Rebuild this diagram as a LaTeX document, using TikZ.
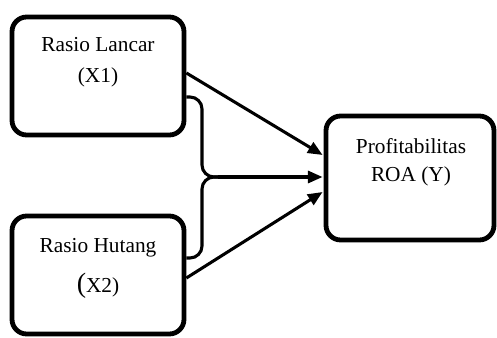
\documentclass[tikz,border=0pt]{standalone}
\usepackage{fontspec}
\setmainfont{Liberation Serif}
\usetikzlibrary{arrows.meta,calc}
\tikzset{
  boxnode/.style={draw=black, line width=3.6pt, rounded corners=11pt, inner sep=0pt, fill=white},
  lbl/.style={anchor=base, inner sep=0pt, font=\fontsize{16}{19}\selectfont},
  conn/.style={line width=2.3pt, -{Triangle[length=11pt,width=9pt]}},
  brace/.style={line width=2.3pt, rounded corners=9pt}
}
\begin{document}
\begin{tikzpicture}[x=0.75pt,y=-0.75pt]
\useasboundingbox (0,0) rectangle (497,338);
% boxes
\node[boxnode, minimum width=129pt, minimum height=88.5pt] (x1) at (98,76) {};
\node[boxnode, minimum width=129pt, minimum height=88.5pt] (x2) at (98,275) {};
\node[boxnode, minimum width=126pt, minimum height=93pt] (y) at (410,178) {};
% labels
\node[lbl] (x1a) at (98,52) {Rasio Lancar};
\node[lbl] (x1b) at (98,83) {(X1)};
\node[lbl] (x2a) at (98,253) {Rasio Hutang};
\node[lbl] (x2b) at (98,293) {{\fontsize{21}{21}\selectfont(}X2)};
\node[lbl] (ya) at (411,154) {Profitabilitas};
\node[lbl] (yb) at (411,182) {ROA (Y)};
% brace
\coordinate (mid) at (218,177);
\draw[brace] ($(x1.east)+(0,21)$) -- (202,97) -- (202,177) -- (mid);
\draw[brace] ($(x2.east)+(0,-17)$) -- (202,258) -- (202,177) -- (mid);
% arrows
\draw[conn] ($(x1.east)+(0,-3)$) -- ($(y.west)+(-1,-23)$);
\draw[conn] (mid) -- ($(y.west)+(-1,-1)$);
\draw[conn] ($(x2.east)+(0,3)$) -- ($(y.west)+(-1,14)$);
\end{tikzpicture}
\end{document}
